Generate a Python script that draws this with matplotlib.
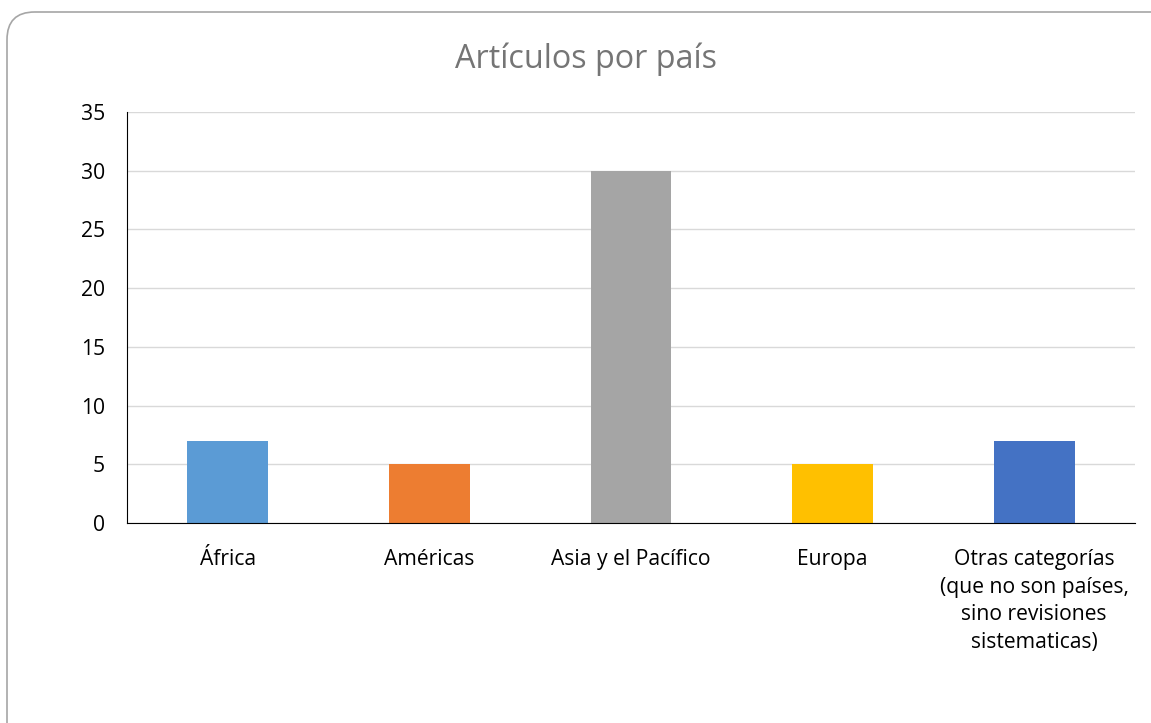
import matplotlib.pyplot as plt
from matplotlib.patches import FancyBboxPatch

regiones = ['África', 'Américas', 'Asia y el Pacífico', 'Europa',
            'Otras categorías\n(que no son países,\nsino revisiones\nsistematicas)']
articulos = [7, 5, 30, 5, 7]
colores = ['#5b9bd5', '#ed7d31', '#a5a5a5', '#ffc000', '#4472c4']

plt.rcParams['font.family'] = ['Open Sans', 'DejaVu Sans']

W, H = 1151, 723
fig = plt.figure(figsize=(W / 100, H / 100), dpi=100)

# rounded chart border (runs off right and bottom edge)
borde = FancyBboxPatch((7 / W, -40 / H), (W + 40) / W, (H + 28) / H,
                       boxstyle='round,pad=0,rounding_size=0.024',
                       transform=fig.transFigure, facecolor='white',
                       edgecolor='#a6a6a6', linewidth=1.2, zorder=-5,
                       mutation_aspect=W / H)
fig.patches.append(borde)

ax = fig.add_axes([127 / W, 1 - 523 / H, (1135 - 127) / W, (523 - 112) / H])
ax.set_facecolor('none')
ax.set_zorder(2)

x = range(len(regiones))
ax.bar(x, articulos, width=0.4, color=colores, zorder=3)

ax.set_xlim(-0.5, len(regiones) - 0.5)
ax.set_ylim(0, 35)
ax.set_yticks(range(0, 36, 5))
ax.set_xticks(list(x))
ax.set_xticklabels(regiones, fontsize=15.2, color='black', linespacing=1.4)
ax.tick_params(axis='y', labelsize=15.2, labelcolor='black', length=0, pad=16)
ax.tick_params(axis='x', length=0, pad=19)

ax.grid(axis='y', color='#d9d9d9', linewidth=1, zorder=0)
for s in ['top', 'right']:
    ax.spines[s].set_visible(False)
ax.spines['left'].set_color('black')
ax.spines['bottom'].set_color('black')
ax.spines['left'].set_zorder(4)
ax.spines['bottom'].set_zorder(4)

fig.text(586 / W, 1 - 59 / H, 'Artículos por país', ha='center', va='center',
         fontsize=23.3, color='#757575')

plt.savefig('out.png', dpi=100)
